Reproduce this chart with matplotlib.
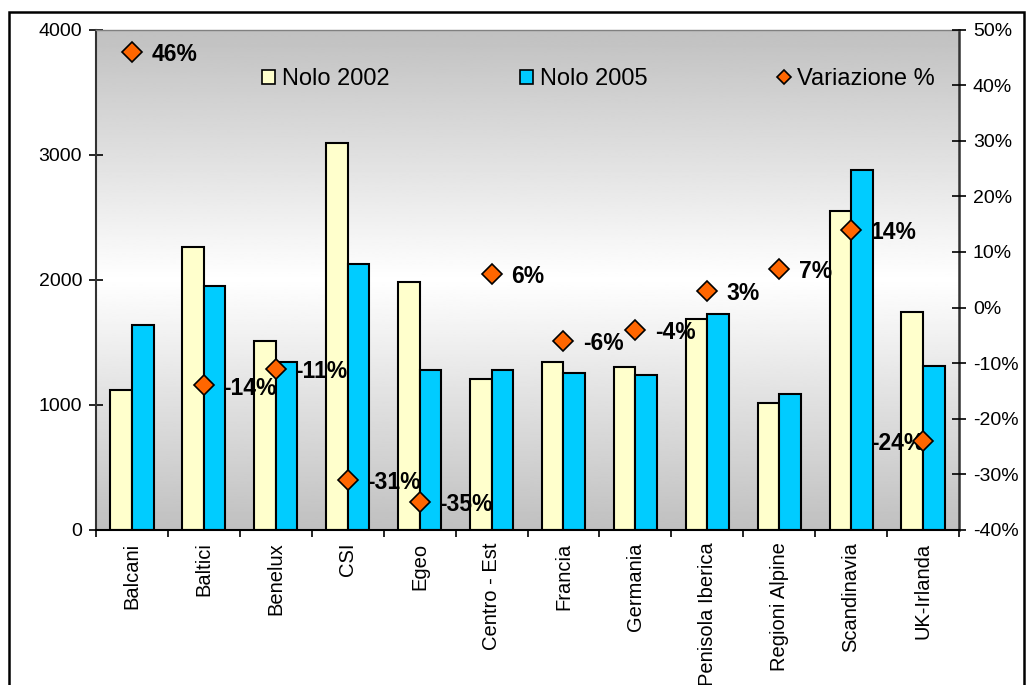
import numpy as np
import matplotlib.pyplot as plt
from matplotlib.patches import Rectangle, Patch
from matplotlib.lines import Line2D
from matplotlib.ticker import MultipleLocator, FuncFormatter

plt.rcParams['font.family'] = ['Liberation Sans', 'DejaVu Sans']

# noli per area geografica
regioni = ['Balcani', 'Baltici', 'Benelux', 'CSI', 'Egeo', 'Centro - Est',
           'Francia', 'Germania', 'Penisola Iberica', 'Regioni Alpine',
           'Scandinavia', 'UK-Irlanda']
nolo_2002 = [1120, 2260, 1510, 3095, 1980, 1210, 1340, 1300, 1683, 1015, 2547, 1742]
nolo_2005 = [1640, 1950, 1341, 2125, 1280, 1280, 1255, 1240, 1725, 1088, 2880, 1310]
variazione = [46, -14, -11, -31, -35, 6, -6, -4, 3, 7, 14, -24]

giallo = '#FFFFCC'
azzurro = '#00CCFF'
arancio = '#FF6600'

fig = plt.figure(figsize=(10.26, 6.85), dpi=100)
ax = fig.add_axes([96 / 1026, 1 - 530 / 685, (959 - 96) / 1026, (530 - 29.5) / 685])
ax2 = ax.twinx()

x = np.arange(len(regioni))

# sfondo sfumato grigio-bianco-grigio
t = np.linspace(0, 1, 300)
shade = 0.753 + 0.247 * (1 - np.abs(t - 0.5) / 0.5)
ax.imshow(shade[:, None], cmap='gray', vmin=0, vmax=1, extent=(0, 1, 0, 1),
          transform=ax.transAxes, aspect='auto', zorder=0, interpolation='bilinear')

ax.bar(x - 0.15, nolo_2002, width=0.3, color=giallo, edgecolor='black', linewidth=1.5, zorder=2)
ax.bar(x + 0.15, nolo_2005, width=0.3, color=azzurro, edgecolor='black', linewidth=1.5, zorder=2)

ax.set_xlim(-0.5, len(regioni) - 0.5)
ax.set_ylim(0, 4000)
ax.yaxis.set_major_locator(MultipleLocator(1000))
ax.tick_params(axis='y', direction='inout', length=10, width=1.2, labelsize=14, pad=5)
ax.set_xticks(x)
ax.set_xticklabels(regioni, rotation=90)
ax.set_xticks(np.arange(-0.5, len(regioni), 1), minor=True)
ax.tick_params(axis='x', which='major', length=0, labelsize=14.5, pad=9)
ax.tick_params(axis='x', which='minor', direction='out', length=5, width=1.2)

# variazione percentuale sull'asse destro
ax2.plot(x, variazione, ls='none', marker='D', ms=10, mfc=arancio, mec='black', mew=1.2, zorder=3)
ax2.set_ylim(-40, 50)
ax2.yaxis.set_major_locator(MultipleLocator(10))
ax2.yaxis.set_major_formatter(FuncFormatter(lambda v, p: f'{v:.0f}%'))
ax2.tick_params(axis='y', direction='inout', length=10, width=1.2, labelsize=14, pad=5)

for i, v in enumerate(variazione):
    if regioni[i] == 'UK-Irlanda':
        ax2.annotate(f'{v}%', (x[i], v), xytext=(1, -2), textcoords='offset points',
                     ha='right', va='center', fontsize=16.5, fontweight='bold', zorder=2)
    else:
        ax2.annotate(f'{v}%', (x[i], v), xytext=(14, -2), textcoords='offset points',
                     ha='left', va='center', fontsize=16.5, fontweight='bold')

for s in ['top', 'left', 'right', 'bottom']:
    ax2.spines[s].set_visible(False)
ax.spines['top'].set_color('#808080')
ax.spines['top'].set_linewidth(1)
ax.spines['left'].set_color('#333333')
ax.spines['left'].set_linewidth(1.5)
ax.spines['bottom'].set_color('black')
ax.spines['bottom'].set_linewidth(1.5)
ax.spines['right'].set_color('#333333')
ax.spines['right'].set_linewidth(1.8)

handles = [Patch(fc=giallo, ec='black', lw=1.2),
           Patch(fc=azzurro, ec='black', lw=1.2),
           Line2D([], [], ls='none', marker='D', ms=7.6, mfc=arancio, mec='black', mew=1.2)]
ax2.legend(handles, ['Nolo 2002', 'Nolo 2005', 'Variazione %'], ncol=3, loc='center left',
           bbox_to_anchor=(262 / 1026, 1 - 79 / 685), bbox_transform=fig.transFigure,
           frameon=False, fontsize=17, handlelength=0.55, handleheight=0.55,
           handletextpad=0.3, columnspacing=5.5, borderpad=0, borderaxespad=0)

# cornice esterna
fig.add_artist(Rectangle((8.5 / 1026, -0.05), (1024 - 8.5) / 1026, 1 - 11.7 / 685 + 0.05,
                         transform=fig.transFigure, fill=False, ec='black', lw=1.8))

fig.savefig('out.png', dpi=100)
